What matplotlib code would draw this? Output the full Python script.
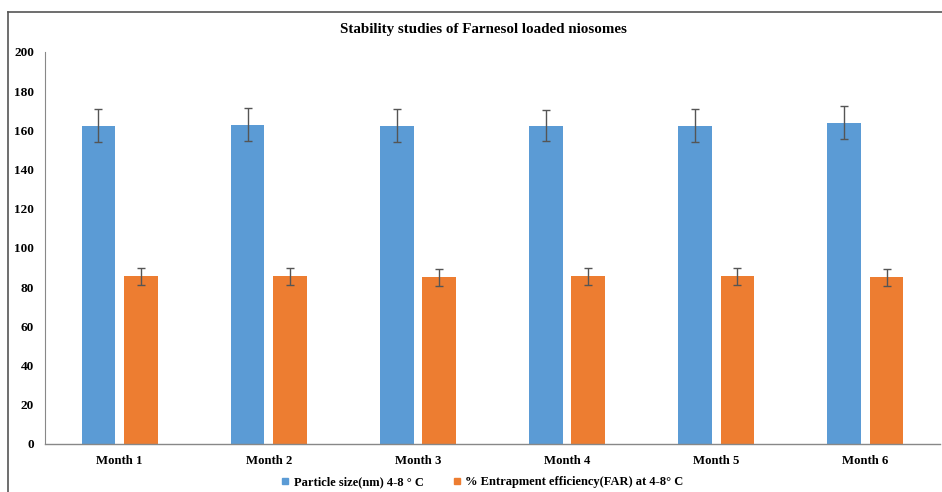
import matplotlib
matplotlib.use("Agg")
import matplotlib.pyplot as plt
import numpy as np
from matplotlib.lines import Line2D

months = ["Month 1", "Month 2", "Month 3", "Month 4", "Month 5", "Month 6"]
particle_size = [162.5, 163, 162.5, 162.5, 162.5, 164]
particle_err = [8.2, 8.2, 8.2, 8.0, 8.2, 8.2]
entrapment = [85.5, 85.5, 85, 85.5, 85.5, 85]
entrapment_err = [4.3, 4.3, 4.3, 4.3, 4.3, 4.3]

labels = ["Particle size(nm) 4-8 \u00b0 C", "% Entrapment efficiency(FAR) at 4-8\u00b0 C"]
colors = ["#5B9BD5", "#ED7D31"]

plt.rcParams["font.family"] = ["Liberation Serif", "DejaVu Serif"]
plt.rcParams["font.weight"] = "bold"

fig = plt.figure(figsize=(9.42, 4.92), dpi=100)
ax = fig.add_axes([45 / 942, 1 - 444 / 492, 895 / 942, 392 / 492])

x = np.arange(len(months))
w = 0.225
off = 0.142
err_kw = dict(ecolor="#555555", elinewidth=1.0, capsize=3, capthick=1.0)
ax.bar(x - off, particle_size, w, color=colors[0], yerr=particle_err,
       error_kw=err_kw, label=labels[0])
ax.bar(x + off, entrapment, w, color=colors[1], yerr=entrapment_err,
       error_kw=err_kw, label=labels[1])

ax.set_xlim(-0.5, len(months) - 0.5)
ax.set_ylim(0, 200)
ax.set_yticks(range(0, 201, 20))
ax.set_xticks(x)
ax.set_xticklabels(months, fontsize=9.2, fontweight="bold")
ax.tick_params(axis="y", length=0, pad=8, labelsize=9.5)
ax.tick_params(axis="x", length=0, pad=8)
for lab in ax.get_yticklabels():
    lab.set_fontweight("bold")

for side in ["top", "right"]:
    ax.spines[side].set_visible(False)
ax.spines["left"].set_color("#888888")
ax.spines["left"].set_linewidth(0.8)
ax.spines["bottom"].set_color("#888888")
ax.spines["bottom"].set_linewidth(1.0)

fig.text(483 / 942, 1 - 30 / 492, "Stability studies of Farnesol loaded niosomes",
         ha="center", va="center", fontsize=10.8, fontweight="bold")

handles = [Line2D([], [], marker="s", linestyle="none", color=c, markersize=5) for c in colors]
fig.legend(handles, labels, loc="center", bbox_to_anchor=(482 / 942, 1 - 482 / 492),
           ncol=2, frameon=False, handlelength=0.8, handletextpad=0.3,
           columnspacing=2.2, prop={"weight": "bold", "size": 9})

# outer frame around the chart
fig.add_artist(Line2D([8 / 942, 8 / 942], [0, 1 - 12 / 492], transform=fig.transFigure,
                      color="#555555", linewidth=1.2))
fig.add_artist(Line2D([8 / 942, 1], [1 - 12 / 492, 1 - 12 / 492], transform=fig.transFigure,
                      color="#555555", linewidth=1.2))

fig.savefig("out.png", dpi=100)
